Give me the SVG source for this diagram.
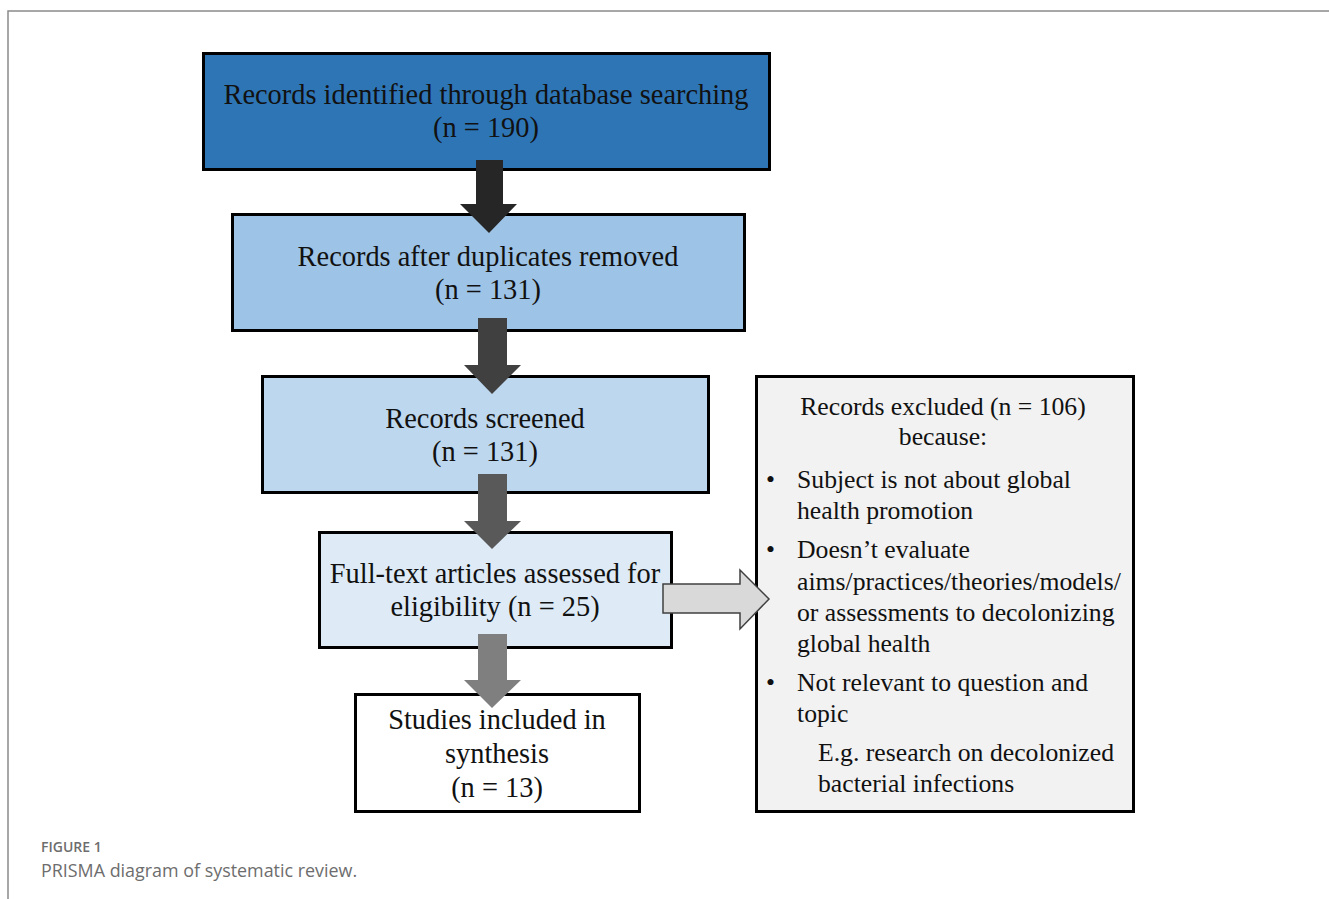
<svg xmlns="http://www.w3.org/2000/svg" width="1329" height="899" viewBox="0 0 1329 899">
<style>
.box{stroke:#000;stroke-width:3}
.t{font-family:"Liberation Serif","Times New Roman",serif;font-size:28.4px;fill:#111;text-anchor:middle}
.r{font-family:"Liberation Serif","Times New Roman",serif;font-size:25.7px;fill:#111}
.cap1{font-family:"Open Sans","Noto Sans",sans-serif;font-size:14px;font-weight:600;fill:#6d6d6d}
.cap2{font-family:"Open Sans","Noto Sans",sans-serif;font-size:17.9px;fill:#6d6d6d}
</style>
<rect x="0" y="0" width="1329" height="899" fill="#fff"/>
<path d="M8 899 V11 H1329" fill="none" stroke="#8a8a8a" stroke-width="1.5"/>

<g id="n1"><rect class="box" x="203.5" y="53.5" width="566" height="116" fill="#2E75B6"/>
<text class="t" x="486" y="104">Records identified through database searching</text>
<text class="t" x="486" y="137">(n = 190)</text></g>

<g id="n2"><rect class="box" x="232.5" y="214.5" width="512" height="116" fill="#9DC3E6"/>
<text class="t" x="488" y="266">Records after duplicates removed</text>
<text class="t" x="488" y="299">(n = 131)</text></g>

<g id="n3"><rect class="box" x="262.5" y="376.5" width="446" height="116" fill="#BDD7EE"/>
<text class="t" x="485" y="428">Records screened</text>
<text class="t" x="485" y="461">(n = 131)</text></g>

<g id="n4"><rect class="box" x="319.5" y="532.5" width="352" height="115" fill="#DEEBF7"/>
<text class="t" x="495" y="583">Full-text articles assessed for</text>
<text class="t" x="495" y="616">eligibility (n = 25)</text></g>

<g id="n5"><rect class="box" x="355.5" y="694.5" width="284" height="117" fill="#FFFFFF"/>
<text class="t" x="497" y="729">Studies included in</text>
<text class="t" x="497" y="763">synthesis</text>
<text class="t" x="497" y="797">(n = 13)</text></g>

<g id="n6"><rect class="box" x="756.5" y="376.5" width="377" height="435" fill="#F2F2F2"/>
<text class="r" x="943" y="415" text-anchor="middle">Records excluded (n = 106)</text>
<text class="r" x="943" y="445" text-anchor="middle">because:</text>
<text class="r" x="766" y="488">•</text>
<text class="r" x="797" y="488">Subject is not about global</text>
<text class="r" x="797" y="519">health promotion</text>
<text class="r" x="766" y="558">•</text>
<text class="r" x="797" y="558">Doesn’t evaluate</text>
<text class="r" x="797" y="590">aims/practices/theories/models/</text>
<text class="r" x="797" y="621">or assessments to decolonizing</text>
<text class="r" x="797" y="652">global health</text>
<text class="r" x="766" y="691">•</text>
<text class="r" x="797" y="691">Not relevant to question and</text>
<text class="r" x="797" y="722">topic</text>
<text class="r" x="818" y="761">E.g. research on decolonized</text>
<text class="r" x="818" y="792">bacterial infections</text></g>

<g id="connectors">
<polygon points="476,160 503,160 503,204 517,204 489,233 460,204 476,204" fill="#262626"/>
<polygon points="478,318 507,318 507,365 521,365 492,394 464,365 478,365" fill="#404040"/>
<polygon points="478,474 507,474 507,521 521,521 492,549 464,521 478,521" fill="#595959"/>
<polygon points="478,634 507,634 507,680 521,680 492,708 464,680 478,680" fill="#7F7F7F"/>
<polygon points="663,584 740,584 740,570 769,599 740,629 740,613 663,613" fill="#D9D9D9" stroke="#404040" stroke-width="1.5"/>
</g>

<g id="caption">
<text class="cap1" x="41" y="852">FIGURE 1</text>
<text class="cap2" x="41" y="877">PRISMA diagram of systematic review.</text>
</g>
</svg>
